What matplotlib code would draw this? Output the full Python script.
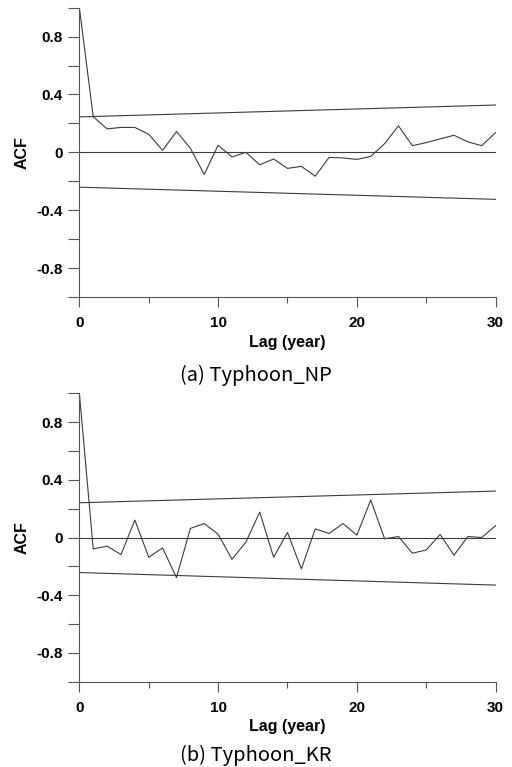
import matplotlib.pyplot as plt
from matplotlib.ticker import MultipleLocator

# --- # ACF values, lag 0..30
lags = list(range(31))
acf_np = [1.0, 0.246, 0.162, 0.172, 0.172, 0.125, 0.014, 0.144, 0.028, -0.153,
          0.049, -0.032, 0.0, -0.086, -0.046, -0.111, -0.097, -0.165, -0.035, -0.039,
          -0.049, -0.028, 0.060, 0.183, 0.046, 0.067, 0.093, 0.118, 0.072, 0.046,
          0.137]
acf_kr = [1.0, -0.079, -0.060, -0.118, 0.121, -0.137, -0.072, -0.278, 0.063, 0.097,
          0.023, -0.151, -0.032, 0.176, -0.137, 0.035, -0.218, 0.060, 0.028, 0.097,
          0.016, 0.260, -0.009, 0.007, -0.109, -0.086, 0.021, -0.123, 0.007, 0.0,
          0.083]

# --- # confidence bounds (straight lines from lag 0 to lag 30)
bound_lags = [0, 30]
upper_np = [0.245, 0.327]
lower_np = [-0.241, -0.325]
upper_kr = [0.241, 0.322]
lower_kr = [-0.243, -0.330]

captions = ['(a) Typhoon_NP', '(b) Typhoon_KR']

fig = plt.figure(figsize=(5.12, 7.67), dpi=100)
ax_a = fig.add_axes([0.155, 0.6128, 0.813, 0.3772])
ax_b = fig.add_axes([0.155, 0.1112, 0.813, 0.376])

panels = [(ax_a, acf_np, upper_np, lower_np), (ax_b, acf_kr, upper_kr, lower_kr)]
line_col = '#3c3c3c'
axis_col = '#555555'

for ax, acf, up, lo in panels:
    ax.plot(lags, acf, color=line_col, lw=0.8)
    ax.plot(bound_lags, up, color=line_col, lw=0.8)
    ax.plot(bound_lags, lo, color=line_col, lw=0.8)
    ax.axhline(0, color=line_col, lw=0.8)
    ax.set_xlim(0, 30)
    ax.set_ylim(-1.0, 1.0)
    ax.spines['top'].set_visible(False)
    ax.spines['right'].set_visible(False)
    for s in ['left', 'bottom']:
        ax.spines[s].set_color(axis_col)
        ax.spines[s].set_linewidth(0.8)
    ax.set_yticks([-0.8, -0.4, 0, 0.4, 0.8])
    ax.set_yticklabels(['-0.8', '-0.4', '0', '0.4', '0.8'])
    ax.yaxis.set_minor_locator(MultipleLocator(0.2))
    ax.set_xticks([0, 10, 20, 30])
    ax.xaxis.set_minor_locator(MultipleLocator(5))
    ax.tick_params(axis='y', which='both', direction='out', length=8, width=0.8,
                   color=axis_col, pad=4)
    ax.tick_params(axis='x', which='major', direction='out', length=7, width=0.8,
                   color=axis_col, pad=7)
    ax.tick_params(axis='x', which='minor', direction='out', length=4, width=0.8,
                   color=axis_col)
    for lab in ax.get_yticklabels():
        lab.set_fontfamily('Liberation Sans')
        lab.set_fontweight('bold')
        lab.set_fontsize(11)
    for lab in ax.get_xticklabels():
        lab.set_fontfamily('Liberation Sans')
        lab.set_fontweight('bold')
        lab.set_fontsize(11)
    ax.set_ylabel('ACF', fontfamily='Liberation Sans', fontweight='bold',
                  fontsize=11.5, labelpad=5)
    ax.set_xlabel('Lag (year)', fontfamily='Liberation Sans', fontweight='bold',
                  fontsize=11.5, labelpad=3)

fig.text(0.5, 1 - 375 / 767, captions[0], ha='center', va='center',
         fontsize=14.5, family=['Noto Sans CJK KR', 'DejaVu Sans'])
fig.text(0.5, 1 - 755 / 767, captions[1], ha='center', va='center',
         fontsize=14.5, family=['Noto Sans CJK KR', 'DejaVu Sans'])

fig.savefig('out.png', dpi=100)
